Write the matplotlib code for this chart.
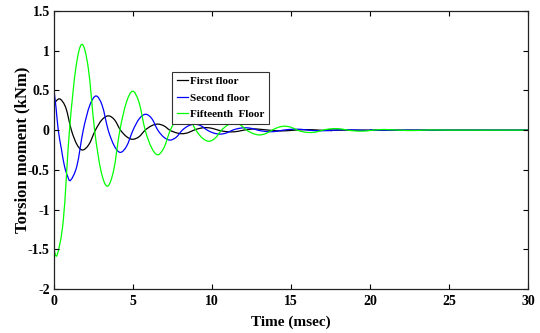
import matplotlib.pyplot as plt
from matplotlib.path import Path
from matplotlib.patches import PathPatch
from matplotlib.lines import Line2D

plt.rcParams['font.family'] = ['Liberation Serif', 'DejaVu Serif']
plt.rcParams['font.weight'] = 'bold'

# First floor (black)
t_first = [0, 0.15, 0.4, 0.75, 1.1, 1.45, 1.8, 2.21, 2.62, 3.03, 3.44, 3.83, 4.21, 4.6, 4.98,
           5.38, 5.77, 6.17, 6.56, 6.95, 7.33, 7.72, 8.1, 8.48, 8.85, 9.23, 9.6, 10.0, 10.4,
           10.8, 11.2, 11.6, 12.0, 12.4, 12.8, 13.6, 14.4, 15.2, 16.0, 16.8, 17.6, 18.4, 30]
v_first = [0.32, 0.37, 0.39, 0.28, 0.0, -0.18, -0.25, -0.18, 0.0, 0.13, 0.18, 0.13, 0.0, -0.083, -0.115,
           -0.083, 0.0, 0.055, 0.076, 0.055, 0.0, -0.032, -0.045, -0.032, 0.0, 0.023, 0.032, 0.023, 0.0,
           -0.016, -0.022, -0.016, 0.0, 0.011, 0.015, 0.0, -0.01, 0.0, 0.007, 0.0, -0.005, 0.0, 0.0]

# Second floor (blue)
t_second = [0, 0.13, 0.27, 0.47, 0.66, 0.86, 1.05, 1.45, 1.85, 2.26, 2.66, 3.05, 3.43, 3.82, 4.2,
            4.6, 5.0, 5.4, 5.8, 6.19, 6.57, 6.96, 7.34, 7.73, 8.12, 8.51, 8.9, 9.3, 9.7, 10.1,
            10.5, 10.9, 11.3, 11.7, 12.1, 12.5, 12.9, 13.3, 13.7, 14.1, 14.5, 14.9, 15.3, 15.7,
            16.1, 16.9, 17.7, 18.5, 19.3, 20.1, 20.9, 30]
v_second = [0.50, 0.28, 0.0, -0.24, -0.45, -0.58, -0.63, -0.45, 0.0, 0.31, 0.43, 0.31, 0.0, -0.2, -0.28,
            -0.2, 0.0, 0.145, 0.2, 0.145, 0.0, -0.09, -0.125, -0.09, 0.0, 0.055, 0.075, 0.055, 0.0, -0.036,
            -0.05, -0.036, 0.0, 0.022, 0.03, 0.022, 0.0, -0.014, -0.02, -0.014, 0.0, 0.009, 0.012, 0.009,
            0.0, -0.008, 0.0, 0.005, 0.0, -0.003, 0.0, 0.0]

# Fifteenth floor (green)
t_fifteenth = [0, 0.2, 0.59, 0.98, 1.38, 1.77, 2.17, 2.57, 2.97, 3.37, 3.77, 4.17, 4.58, 4.98,
               5.38, 5.77, 6.17, 6.56, 6.96, 7.36, 7.77, 8.17, 8.58, 8.98, 9.39, 9.8, 10.2, 10.6,
               11.0, 11.4, 11.8, 12.2, 12.6, 13.0, 13.4, 13.8, 14.2, 14.6, 15.0, 15.4, 15.8, 16.2,
               16.6, 17.0, 17.4, 17.8, 18.2, 18.6, 19.0, 19.4, 19.8, 20.2, 20.6, 21.0, 21.8, 22.6,
               23.4, 24.2, 25.0, 30]
v_fifteenth = [-1.50, -1.57, -1.13, 0.0, 0.78, 1.08, 0.78, 0.0, -0.51, -0.705, -0.51, 0.0, 0.35, 0.49,
               0.35, 0.0, -0.22, -0.31, -0.22, 0.0, 0.145, 0.2, 0.145, 0.0, -0.10, -0.14, -0.10, 0.0,
               0.065, 0.09, 0.065, 0.0, -0.043, -0.06, -0.043, 0.0, 0.036, 0.05, 0.036, 0.0, -0.022, -0.03,
               -0.022, 0.0, 0.014, 0.02, 0.014, 0.0, -0.009, -0.012, -0.009, 0.0, 0.006, 0.008, 0.0, -0.005,
               0.0, 0.003, 0.0, 0.0]

labels = ['First floor', 'Second floor', 'Fifteenth  Floor']
colors = ['black', '#0000ff', '#00ff00']

xticks = [0, 5, 10, 15, 20, 25, 30]
yticks = [-2, -1.5, -1, -0.5, 0, 0.5, 1, 1.5]
yticklabels = ['-2', '-1.5', '-1', '-0.5', '0', '0.5', '1', '1.5']


def smooth_path(t, v):
    # draw a smooth curve through the read points (Catmull-Rom as Bezier segments)
    n = len(t)
    verts = [(t[0], v[0])]
    codes = [Path.MOVETO]
    for i in range(n - 1):
        a = max(i - 1, 0)
        d = min(i + 2, n - 1)
        c1 = (t[i] + (t[i + 1] - t[a]) / 6, v[i] + (v[i + 1] - v[a]) / 6)
        c2 = (t[i + 1] - (t[d] - t[i]) / 6, v[i + 1] - (v[d] - v[i]) / 6)
        verts += [c1, c2, (t[i + 1], v[i + 1])]
        codes += [Path.CURVE4] * 3
    return Path(verts, codes)


fig = plt.figure(figsize=(5.4, 3.33), dpi=100)
ax = fig.add_axes([0.1, 0.132, 0.878, 0.835])

series = [(t_first, v_first), (t_second, v_second), (t_fifteenth, v_fifteenth)]
for (t, v), c in zip(series, colors):
    ax.add_patch(PathPatch(smooth_path(t, v), facecolor='none', edgecolor=c, lw=0.9))

ax.set_xlim(0, 30)
ax.set_ylim(-2, 1.5)
ax.set_xticks(xticks)
ax.set_xticklabels([str(x) for x in xticks])
ax.set_yticks(yticks)
ax.set_yticklabels(yticklabels)
ax.tick_params(direction='in', length=3.5, width=0.8, labelsize=10,
               top=True, right=True, pad=3)
ax.tick_params(axis='x', pad=4)
for s in ax.spines.values():
    s.set_linewidth(0.9)
    s.set_color('#222222')

ax.set_xlabel('Time (msec)', fontsize=11, fontweight='bold', labelpad=5.5)
ax.set_ylabel('Torsion moment (kNm)', fontsize=12, fontweight='bold', labelpad=-1.5)

handles = [Line2D([], [], color=c, lw=0.9) for c in colors]
leg = ax.legend(handles, labels, loc='upper left', bbox_to_anchor=(0.249, 0.78), borderaxespad=0,
                handlelength=1.0, handletextpad=0.2, labelspacing=0.6,
                borderpad=0.4, fancybox=False, framealpha=1, edgecolor='#333333',
                prop={'weight': 'bold', 'size': 8})
leg.get_frame().set_linewidth(0.8)

fig.savefig('out.png', dpi=100)
